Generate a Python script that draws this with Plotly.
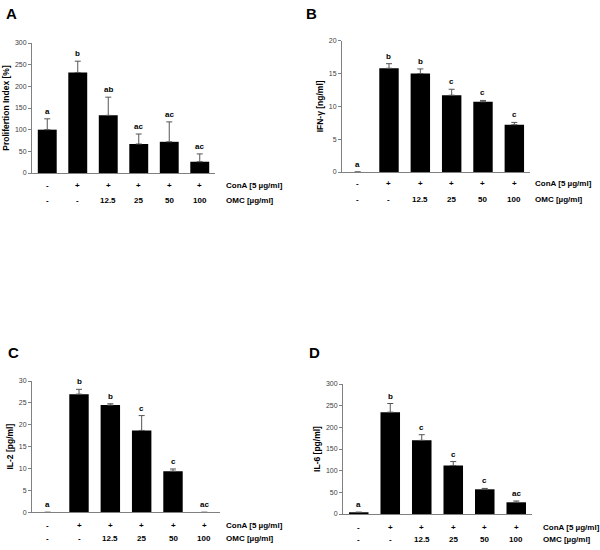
import plotly.graph_objects as go

W, H = 600, 550

# ---- data ----
conA_row = ["-", "+", "+", "+", "+", "+"]
omc_row = ["-", "-", "12.5", "25", "50", "100"]

prolif_vals = [100, 232, 133, 67, 72, 26]
prolif_err = [25, 26, 42, 23, 46, 18]
prolif_letters = ["a", "b", "ab", "ac", "ac", "ac"]

ifng_vals = [0, 15.8, 15.0, 11.7, 10.7, 7.2]
ifng_err = [0, 0.7, 0.7, 0.9, 0.2, 0.35]
ifng_letters = ["a", "b", "b", "c", "c", "c"]

il2_vals = [0, 27.0, 24.5, 18.7, 9.4, 0]
il2_err = [0, 1.1, 0.3, 3.4, 0.5, 0]
il2_letters = ["a", "b", "b", "c", "c", "ac"]

il6_vals = [4, 235, 170, 112, 57, 27]
il6_err = [0, 20, 13, 9, 2, 3]
il6_letters = ["a", "b", "c", "c", "c", "ac"]

FONT = "Liberation Sans, Arial, sans-serif"
GRAY = "#808080"

panels = [
    ("A", prolif_vals, prolif_err, prolif_letters, "Prolifertion Index [%]", 300, 50,
     (32, 215), (43, 173), (185, 200), 224, (4, 13)),
    ("B", ifng_vals, ifng_err, ifng_letters, "IFN-γ [ng/ml]", 20, 5,
     (342, 530), (40.7, 172), (183, 199), 533, (304, 13)),
    ("C", il2_vals, il2_err, il2_letters, "IL-2 [pg/ml]", 30, 5,
     (32, 220), (381, 512.3), (525, 538), 224, (6, 352)),
    ("D", il6_vals, il6_err, il6_letters, "IL-6 [pg/ml]", 300, 50,
     (343, 532), (384, 514), (527, 539), 541, (307, 352)),
]

fig = go.Figure()
annotations = []
layout = {}
cats = list(range(6))

def px_x(p):
    return p / W

def px_y(p):
    return 1 - p / H

for i, (lab, vals, err, letters, ytitle, ymax, dtick, xr, yr, rows, rowx, labpos) in enumerate(panels):
    ax = "" if i == 0 else str(i + 1)
    fig.add_trace(go.Bar(
        x=cats, y=vals, width=0.62,
        marker=dict(color="black", line=dict(width=0)),
        error_y=dict(type="data", symmetric=False, array=err,
                     arrayminus=[0] * 6, color="#555555", thickness=1, width=3),
        xaxis="x" + ax, yaxis="y" + ax, showlegend=False, hoverinfo="skip",
    ))
    layout["xaxis" + ax] = dict(
        domain=[px_x(xr[0]), px_x(xr[1])], range=[-0.5, 5.5],
        anchor="y" + ax, showticklabels=False, ticks="", showgrid=False,
        zeroline=False, showline=True, linecolor=GRAY, linewidth=1,
        automargin=False, fixedrange=True,
    )
    layout["yaxis" + ax] = dict(
        domain=[px_y(yr[1]), px_y(yr[0])], range=[0, ymax], dtick=dtick,
        anchor="x" + ax, showgrid=False, zeroline=False, showline=True,
        linecolor=GRAY, linewidth=1, ticks="outside", ticklen=3,
        tickcolor=GRAY, tickfont=dict(family=FONT, size=7, color="#404040"),
        automargin=False, fixedrange=True,
        title=dict(text="<b>" + ytitle + "</b>", standoff=3,
                   font=dict(family=FONT, size=8.5, color="black")),
    )
    for c, v, e, l in zip(cats, vals, err, letters):
        annotations.append(dict(
            x=c, y=v + e, xref="x" + ax, yref="y" + ax, text="<b>" + l + "</b>",
            showarrow=False, yanchor="bottom", yshift=1,
            font=dict(family=FONT, size=8, color="black"),
        ))
    for c, a, o in zip(cats, conA_row, omc_row):
        annotations.append(dict(
            x=c, y=px_y(rows[0]), xref="x" + ax, yref="paper", text="<b>" + a + "</b>",
            showarrow=False, yanchor="middle",
            font=dict(family=FONT, size=8, color="black"),
        ))
        annotations.append(dict(
            x=c, y=px_y(rows[1]), xref="x" + ax, yref="paper", text="<b>" + o + "</b>",
            showarrow=False, yanchor="middle",
            font=dict(family=FONT, size=8, color="black"),
        ))
    annotations.append(dict(
        x=px_x(rowx), y=px_y(rows[0]), xref="paper", yref="paper",
        text="<b>ConA [5 µg/ml]</b>", showarrow=False, xanchor="left", yanchor="middle",
        font=dict(family=FONT, size=8, color="black"),
    ))
    annotations.append(dict(
        x=px_x(rowx), y=px_y(rows[1]), xref="paper", yref="paper",
        text="<b>OMC [µg/ml]</b>", showarrow=False, xanchor="left", yanchor="middle",
        font=dict(family=FONT, size=8, color="black"),
    ))
    annotations.append(dict(
        x=px_x(labpos[0]), y=px_y(labpos[1]), xref="paper", yref="paper",
        text="<b>" + lab + "</b>", showarrow=False, xanchor="left", yanchor="middle",
        font=dict(family=FONT, size=15, color="black"),
    ))

fig.update_layout(
    width=W, height=H, margin=dict(l=0, r=0, t=0, b=0),
    paper_bgcolor="white", plot_bgcolor="white",
    annotations=annotations, bargap=0.38, **layout,
)

fig.write_html("out.html", config={"displayModeBar": False, "staticPlot": True},
               post_script="document.body.style.margin='0';document.body.style.overflow='hidden';")
